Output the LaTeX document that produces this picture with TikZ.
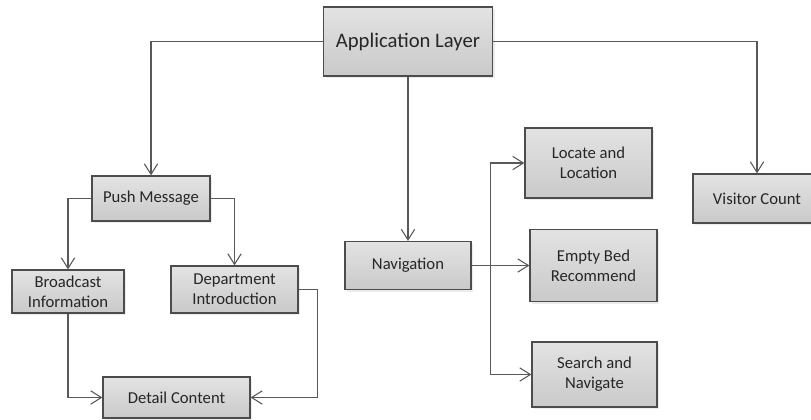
\documentclass[tikz,border=0pt]{standalone}
\usepackage{fontspec}
\setmainfont{Carlito}
\usepackage{tikz}
\usetikzlibrary{arrows.meta, calc, shadows}

\begin{document}
\begin{tikzpicture}[
  x=0.75pt, y=-0.75pt,
  every node/.style={font=\fontsize{12.5}{15}\selectfont, text=black!85},
  box/.style={
    rectangle, draw=black!70, line width=0.9pt,
    top color=black!11, bottom color=black!21,
    drop shadow={shadow xshift=1.5pt, shadow yshift=-1.5pt, opacity=0.15},
    inner sep=2pt, align=center,
  },
  flow/.style={-{Straight Barb[length=8pt, width=10pt, line width=0.8pt]}, line width=0.8pt, draw=black!65},
]
  \useasboundingbox (0,0) rectangle (811,419);

  \node[box, minimum width=126.75pt, minimum height=51.75pt, font=\fontsize{15.5}{18}\selectfont] (app) at (408,41.5) {Application Layer};

  \node[box, minimum width=88.5pt, minimum height=33.75pt] (push) at (151,198.5) {Push Message};
  \node[box, minimum width=84pt, minimum height=32.25pt] (bcast) at (68,291.5) {Broadcast\\Information};
  \node[box, minimum width=95.25pt, minimum height=35.25pt] (dept) at (234.5,289.5) {Department\\Introduction};
  \node[box, minimum width=110.25pt, minimum height=30.75pt] (detail) at (176.5,397.5) {Detail Content};

  \node[box, minimum width=94.5pt, minimum height=36pt] (nav) at (408,265.5) {Navigation};
  \node[box, minimum width=95.25pt, minimum height=52.5pt] (locate) at (588.5,163) {Locate and\\Location};
  \node[box, minimum width=95.25pt, minimum height=54pt] (empty) at (593.5,265.5) {Empty Bed\\Recommend};
  \node[box, minimum width=93.75pt, minimum height=48.75pt] (search) at (594.5,374.5) {Search and\\Navigate};

  \node[box, minimum width=96pt, minimum height=36.75pt] (visitor) at (757,198.5) {Visitor Count};

  \draw[flow] (app.west) -| (push.north);
  \draw[flow] (app.east) -| (visitor.north);
  \draw[flow] (app) -- (nav);

  \draw[flow] (push.west) -| (bcast.north);
  \draw[flow] (push.east) -| (dept.north);
  \draw[flow] (bcast.south) |- (detail.west);
  \draw[flow] (dept.east) -- ++(19,0) |- (detail.east);

  \coordinate (fork) at ($(nav.east)+(19,0)$);
  \draw[flow] (nav.east) -- (empty.west);
  \draw[flow] (fork) |- (locate.west);
  \draw[flow] (fork) |- (search.west);
\end{tikzpicture}
\end{document}
